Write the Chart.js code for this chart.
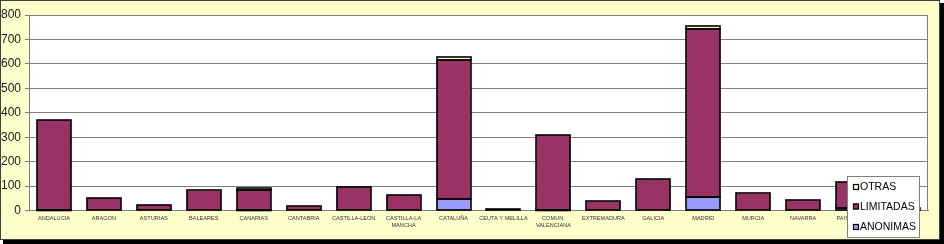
<!DOCTYPE html>
<html>
<head>
<meta charset="utf-8">
<script src="https://cdn.jsdelivr.net/npm/chart.js@4"></script>
<style>
html,body{margin:0;padding:0;background:#fff;}
#wrap{width:944px;height:244px;position:relative;}
</style>
</head>
<body>
<div id="wrap"><canvas id="c" width="944" height="244"></canvas></div>
<script>
const categories = [
  "ANDALUCIA", "ARAGON", "ASTURIAS", "BALEARES", "CANARIAS", "CANTABRIA",
  "CASTILLA-LEON", ["CASTILLA-LA", "MANCHA"], "CATALUÑA", "CEUTA Y MELILLA",
  ["COMUN.", "VALENCIANA"], "EXTREMADURA", "GALICIA", "MADRID", "MURCIA",
  "NAVARRA", "PAIS VASCO", "LA RIOJA"
];
const anonimas  = [2, 0, 0, 0, 3, 0, 0, 0, 46, 0, 3, 0, 0, 57, 0, 0, 10, 0];
const limitadas = [368, 51, 22, 82, 81, 17, 96, 63, 570, 5, 306, 38, 128, 686, 70, 42, 107, 12];
const otras     = [0, 0, 0, 0, 9, 0, 0, 0, 12, 0, 0, 0, 0, 14, 0, 0, 0, 0];
const yTicks = [0, 100, 200, 300, 400, 500, 600, 700, 800];

const seriesNames = ["ANONIMAS", "LIMITADAS", "OTRAS"];
const seriesColors = ["#9999FF", "#993366", "#FFFFCC"];

const bgPlugin = {
  id: 'bg',
  beforeDraw(chart) {
    const ctx = chart.ctx;
    ctx.save();
    ctx.fillStyle = '#000';
    ctx.fillRect(3, 3, 941, 241);
    ctx.fillStyle = '#FFFFCC';
    ctx.fillRect(0, 0, 940, 240);
    ctx.strokeStyle = '#404040';
    ctx.lineWidth = 1;
    ctx.strokeRect(0.5, 0.5, 939, 239);
    const a = chart.chartArea;
    ctx.fillStyle = '#FFFFFF';
    ctx.fillRect(a.left, a.top, a.right - a.left, a.bottom - a.top);
    ctx.restore();
  },
  afterDatasetsDraw(chart) {
    const ctx = chart.ctx;
    const a = chart.chartArea;
    ctx.save();
    ctx.strokeStyle = '#000000';
    ctx.lineWidth = 1.6;
    chart.data.datasets.forEach((ds, di) => {
      const meta = chart.getDatasetMeta(di);
      meta.data.forEach((el, i) => {
        if (!ds.data[i]) return;
        const p = el.getProps(['x', 'y', 'base', 'width'], true);
        const l = Math.round(p.x - p.width / 2);
        const r = Math.round(p.x + p.width / 2);
        const t = Math.round(Math.min(p.y, p.base));
        const b = Math.round(Math.max(p.y, p.base));
        ctx.strokeRect(l, t, r - l, Math.max(b - t, 0.5));
      });
    });
    ctx.strokeStyle = '#808080';
    ctx.lineWidth = 1;
    ctx.beginPath();
    ctx.moveTo(Math.round(a.right) - 0.5, a.top);
    ctx.lineTo(Math.round(a.right) - 0.5, a.bottom);
    ctx.stroke();
    ctx.restore();
  },
  afterDraw(chart) {
    const ctx = chart.ctx;
    ctx.save();
    const bx = 847, by = 176, bw = 73, bh = 62;
    ctx.fillStyle = '#FFFFFF';
    ctx.fillRect(bx, by, bw, bh);
    ctx.strokeStyle = '#808080';
    ctx.lineWidth = 1;
    ctx.strokeRect(bx + 0.5, by + 0.5, bw - 1, bh - 1);
    const rows = [2, 1, 0];
    const ys = [187, 206.5, 227];
    ctx.font = '10.5px "Liberation Sans", Arial, sans-serif';
    ctx.textBaseline = 'middle';
    rows.forEach((si, i) => {
      const y = ys[i];
      ctx.fillStyle = seriesColors[si];
      ctx.fillRect(853, y - 3, 6, 6);
      ctx.strokeStyle = '#000';
      ctx.lineWidth = 1.2;
      ctx.strokeRect(853.5, y - 2.5, 5, 5);
      ctx.fillStyle = '#000';
      ctx.fillText(seriesNames[si], 860, y + 0.5);
    });
    ctx.restore();
  }
};

const datasets = [anonimas, limitadas, otras].map((d, i) => ({
  label: seriesNames[i],
  data: d,
  backgroundColor: seriesColors[i],
  borderWidth: 0,
  barPercentage: 0.68,
  categoryPercentage: 1.0
}));

new Chart(document.getElementById('c'), {
  type: 'bar',
  data: { labels: categories, datasets },
  plugins: [bgPlugin],
  options: {
    responsive: false,
    animation: false,
    devicePixelRatio: 1,
    layout: { padding: { top: 15, right: 16, left: 0, bottom: 0 } },
    plugins: { legend: { display: false }, tooltip: { enabled: false } },
    scales: {
      x: {
        stacked: true,
        grid: { display: false, drawTicks: false },
        border: { display: true, color: '#808080', width: 1 },
        ticks: {
          autoSkip: false, maxRotation: 0, minRotation: 0, padding: 4,
          color: '#333333',
          font: { family: '"Liberation Sans", Arial, sans-serif', size: 5.6, lineHeight: 1.35 }
        },
        afterFit(s) { s.height = 33.5; }
      },
      y: {
        stacked: true,
        min: 0, max: 800,
        afterBuildTicks(s) { s.ticks = yTicks.map(v => ({ value: v })); },
        grid: { color: '#808080', lineWidth: 1, drawTicks: true, tickLength: 4, tickColor: '#808080' },
        border: { display: true, color: '#808080', width: 1 },
        ticks: {
          padding: 4, color: '#1a1a1a',
          font: { family: '"Liberation Sans", Arial, sans-serif', size: 12 }
        },
        afterFit(s) { s.width = 29; }
      }
    }
  }
});
</script>
</body>
</html>
